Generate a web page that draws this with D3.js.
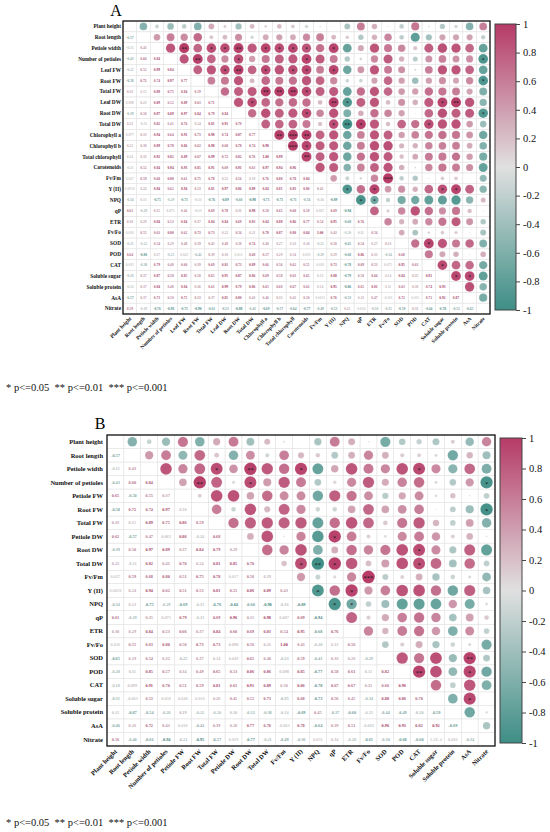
<!DOCTYPE html>
<html>
<head>
<meta charset="utf-8">
<script src="https://cdn.jsdelivr.net/npm/d3@7"></script>
<style>
body { margin: 0; background: #fff; }
svg text { font-family: "Liberation Serif", "Times New Roman", serif; }
</style>
</head>
<body>
<svg id="chart" width="550" height="832"></svg>
<script>
// variable names, panel A
const namesA = ["Plant height", "Root length", "Petiole width", "Number of petioles", "Leaf FW", "Root FW",
	"Total  FW", "Leaf DW", "Root DW", "Total DW", "Chlorophyll a", "Chlorophyll b", "Total chlorophyll",
	"Carotenoids", "Fv/Fm", "Y (II)", "NPQ", "qP", "ETR", "Fv/Fo", "SOD", "POD", "CAT",
	"Soluble sugar", "Soluble protein", "AsA", "Nitrate"];

// lower triangle of the correlation matrix, row i holds columns 0..i-1
const lowerA = [
	[],
	[-0.57],
	[-0.15, 0.43],
	[-0.43, 0.60, 0.84],
	[-0.22, 0.52, 0.99, 0.84],
	[-0.58, 0.72, 0.74, 0.97, 0.77],
	[0.33, 0.15, 0.89, 0.75, 0.84, 0.59],
	[0.098, 0.23, 0.89, 0.52, 0.89, 0.63, 0.71],
	[-0.39, 0.50, 0.97, 0.89, 0.97, 0.84, 0.79, 0.84],
	[0.23, -0.11, 0.82, 0.41, 0.76, 0.24, 0.81, 0.91, 0.70],
	[0.077, 0.33, 0.94, 0.64, 0.91, 0.73, 0.98, 0.74, 0.87, 0.77],
	[0.22, 0.38, 0.89, 0.78, 0.86, 0.63, 0.98, 0.68, 0.78, 0.74, 0.98],
	[0.14, 0.33, 0.92, 0.82, 0.89, 0.67, 0.99, 0.72, 0.82, 0.76, 1.00, 0.99],
	[-0.11, 0.52, 0.84, 0.94, 0.93, 0.85, 0.91, 0.69, 0.91, 0.63, 0.97, 0.94, 0.96],
	[0.027, 0.59, 0.68, 0.80, 0.61, 0.75, 0.78, 0.22, 0.56, 0.19, 0.76, 0.80, 0.78, 0.84],
	[0.0058, 0.24, 0.94, 0.62, 0.94, 0.53, 0.81, 0.97, 0.86, 0.89, 0.84, 0.81, 0.83, 0.80, 0.43],
	[-0.34, 0.13, -0.75, -0.29, -0.71, -0.13, -0.76, -0.89, -0.60, -0.98, -0.71, -0.71, -0.71, -0.56, -0.16, -0.89],
	[0.61, -0.29, 0.35, 0.075, 0.46, -0.13, 0.69, 0.78, 0.31, 0.98, 0.58, 0.61, 0.68, 0.58, 0.067, 0.69, -0.94],
	[0.30, 0.29, 0.84, 0.53, 0.84, 0.37, 0.84, 0.84, 0.69, 0.83, 0.84, 0.88, 0.86, 0.77, 0.54, 0.95, -0.68, 0.76],
	[0.016, 0.55, 0.63, 0.80, 0.62, 0.73, 0.73, 0.22, 0.56, 0.21, 0.78, 0.87, 0.80, 0.84, 1.00, 0.43, -0.20, 0.11, 0.56],
	[-0.21, -0.22, 0.54, 0.29, 0.48, 0.39, 0.43, 0.48, 0.38, 0.74, 0.40, 0.27, 0.20, 0.30, -0.21, 0.50, -0.65, 0.54, 0.27, 0.33],
	[0.64, -0.80, 0.17, -0.25, 0.045, -0.42, 0.39, 0.30, 0.013, 0.68, 0.57, 0.29, 0.34, 0.033, -0.29, 0.29, -0.68, 0.86, 0.33, -0.34, 0.68],
	[0.033, -0.38, 0.79, 0.48, 0.60, 0.39, 0.69, 0.81, 0.73, 0.89, 0.66, 0.56, 0.62, 0.55, 0.018, 0.73, -0.78, 0.69, 0.53, 0.075, 0.95, 0.63],
	[-0.28, 0.37, 0.87, 0.58, 0.85, 0.50, 0.65, 0.95, 0.87, 0.86, 0.69, 0.58, 0.63, 0.65, 0.13, 0.88, -0.79, 0.50, 0.66, 0.14, 0.84, 0.35, 0.91],
	[-0.12, 0.37, 0.84, 0.48, 0.84, 0.36, 0.61, 0.99, 0.79, 0.86, 0.65, 0.60, 0.67, 0.61, 0.14, 0.95, -0.86, 0.65, 0.81, 0.11, 0.63, 0.30, 0.74, 0.93],
	[-0.57, 0.37, 0.73, 0.50, 0.75, 0.53, 0.37, 0.85, 0.80, 0.43, 0.46, 0.33, 0.41, 0.50, 0.0051, 0.76, -0.53, 0.20, 0.47, -0.011, 0.72, 0.015, 0.71, 0.92, 0.87],
	[0.59, -0.19, -0.76, -0.91, -0.75, -0.90, -0.61, -0.53, -0.88, -0.43, -0.69, -0.57, -0.64, -0.77, -0.49, -0.53, 0.25, -0.016, -0.30, -0.35, -0.59, 0.31, -0.66, -0.78, -0.55, -0.65]
];

// significance marks shown in the upper triangle: [row, col, mark]
const starsA = [
	[2, 4, "**"], [2, 6, "*"], [2, 7, "*"], [2, 8, "**"], [2, 10, "*"], [2, 11, "*"], [2, 12, "*"], [2, 13, "*"], [2, 15, "*"],
	[3, 5, "**"], [3, 8, "*"], [3, 13, "*"], [3, 26, "*"],
	[4, 7, "*"], [4, 8, "**"], [4, 10, "*"], [4, 12, "*"], [4, 13, "*"], [4, 15, "*"],
	[5, 26, "*"],
	[6, 10, "**"], [6, 11, "**"], [6, 12, "**"], [6, 13, "*"],
	[7, 9, "*"], [7, 15, "**"], [7, 16, "*"], [7, 23, "*"], [7, 24, "**"],
	[8, 13, "*"], [8, 26, "*"],
	[9, 15, "*"], [9, 16, "**"], [9, 17, "*"], [9, 22, "*"],
	[10, 11, "**"], [10, 12, "***"], [10, 13, "**"],
	[11, 12, "***"], [11, 13, "*"],
	[12, 13, "**"],
	[14, 19, "***"],
	[15, 16, "*"], [15, 18, "*"], [15, 23, "*"], [15, 24, "*"],
	[16, 17, "*"], [16, 18, "*"],
	[20, 22, "*"],
	[22, 23, "*"],
	[23, 24, "*"], [23, 25, "*"]
];

// variable names, panel B
const namesB = ["Plant height", "Root length", "Petiole width", "Number of petioles", "Petiole FW", "Root FW",
	"Total  FW", "Petiole DW", "Root DW", "Total DW", "Fv/Fm", "Y (II)", "NPQ", "qP", "ETR", "Fv/Fo",
	"SOD", "POD", "CAT", "Soluble sugar", "Soluble protein", "AsA", "Nitrate"];

const lowerB = [
	[],
	[-0.57],
	[-0.15, 0.43],
	[-0.43, 0.60, 0.84],
	[0.65, -0.50, 0.55, 0.37],
	[-0.58, 0.72, 0.74, 0.97, 0.10],
	[0.33, 0.15, 0.89, 0.75, 0.86, 0.59],
	[0.62, -0.57, 0.47, 0.063, 0.86, -0.14, 0.68],
	[-0.39, 0.50, 0.97, 0.89, 0.37, 0.84, 0.79, 0.29],
	[0.23, -0.11, 0.82, 0.41, 0.70, 0.24, 0.81, 0.85, 0.70],
	[0.027, 0.59, 0.68, 0.80, 0.51, 0.75, 0.78, 0.017, 0.56, 0.19],
	[0.0058, 0.24, 0.94, 0.62, 0.51, 0.53, 0.81, 0.55, 0.86, 0.89, 0.43],
	[-0.34, 0.13, -0.75, -0.29, -0.69, -0.13, -0.76, -0.84, -0.60, -0.98, -0.16, -0.89],
	[0.61, -0.29, 0.35, 0.075, 0.79, -0.13, 0.69, 0.96, 0.31, 0.98, 0.067, 0.69, -0.94],
	[0.30, 0.29, 0.84, 0.53, 0.66, 0.37, 0.84, 0.60, 0.69, 0.83, 0.54, 0.95, -0.68, 0.76],
	[0.016, 0.55, 0.63, 0.80, 0.50, 0.73, 0.73, 0.098, 0.56, 0.21, 1.00, 0.43, -0.20, 0.11, 0.56],
	[-0.65, 0.29, 0.54, 0.32, -0.25, 0.37, 0.14, 0.049, 0.65, 0.40, -0.23, 0.59, -0.41, 0.33, 0.26, -0.29],
	[-0.28, 0.11, 0.85, 0.57, 0.34, 0.49, 0.65, 0.53, 0.86, 0.86, 0.098, 0.85, -0.77, 0.58, 0.61, 0.11, 0.82],
	[-0.18, 0.099, 0.91, 0.70, 0.51, 0.59, 0.81, 0.61, 0.91, 0.89, 0.30, 0.86, -0.78, 0.67, 0.67, 0.31, 0.66, 0.96],
	[-0.31, -0.063, 0.53, 0.056, 0.048, 0.010, 0.26, 0.45, 0.52, 0.73, -0.35, 0.68, -0.73, 0.56, 0.45, -0.34, 0.88, 0.86, 0.70],
	[0.11, -0.67, -0.54, -0.28, 0.19, -0.22, -0.20, 0.10, -0.32, -0.38, -0.14, -0.69, 0.45, -0.37, -0.60, -0.13, -0.44, -0.49, -0.20, -0.59],
	[-0.46, 0.26, 0.72, 0.43, 0.016, -0.42, 0.39, 0.28, 0.77, 0.70, -0.063, 0.78, -0.64, 0.39, 0.51, -0.063, 0.96, 0.93, 0.82, 0.92, -0.69],
	[0.56, -0.40, -0.61, -0.94, -0.21, -0.95, -0.57, 0.019, -0.77, -0.21, -0.49, -0.36, 0.051, 0.14, -0.20, -0.65, -0.30, -0.68, -0.60, 0.00012, 0.036, -0.34]
];

const starsB = [
	[2, 6, "*"], [2, 8, "**"], [2, 11, "*"], [2, 18, "*"],
	[3, 5, "**"], [3, 8, "*"], [3, 22, "*"],
	[5, 22, "*"],
	[7, 13, "*"],
	[8, 18, "*"],
	[9, 11, "*"], [9, 12, "**"], [9, 13, "*"], [9, 18, "*"],
	[10, 15, "***"],
	[11, 12, "*"], [11, 14, "*"],
	[12, 13, "*"], [12, 14, "*"],
	[16, 21, "**"],
	[17, 18, "**"], [17, 21, "*"],
	[19, 21, "*"]
];

const colorTicks = [1, 0.8, 0.6, 0.4, 0.2, 0, -0.2, -0.4, -0.6, -0.8, -1];
const legendText = "* p<=0.05  ** p<=0.01  *** p<=0.001";

//////////////////////////////////////////////////////////////////////

const color = d3.scaleLinear()
	.domain([-1, 0, 1])
	.range(["#3e8e86", "#e0e0e0", "#b63b67"]);

const svg = d3.select("#chart");

// gradient for the colour bars
const grad = svg.append("defs").append("linearGradient")
	.attr("id", "cbar")
	.attr("x1", 0).attr("y1", 1).attr("x2", 0).attr("y2", 0);
grad.selectAll("stop")
	.data(d3.range(-1, 1.001, 0.1))
	.join("stop")
	.attr("offset", d => (d + 1) / 2)
	.attr("stop-color", d => color(d));

function fmt(v) {
	const a = Math.abs(v);
	if (a >= 0.1) return v.toFixed(2);
	if (a >= 0.001) return v.toPrecision(2);
	return v.toExponential(1).toUpperCase();
}

function drawPanel(p) {

	const n = p.names.length;
	const x = d3.scaleBand().domain(d3.range(n)).range([p.left, p.left + p.width]);
	const y = d3.scaleBand().domain(d3.range(n)).range([p.top, p.top + p.height]);
	const rMax = 0.47 * Math.min(x.bandwidth(), y.bandwidth());
	const rScale = d3.scaleSqrt().domain([0, 1]).range([0, rMax]);

	const cells = [];
	for (let i = 0; i < n; i++) {
		for (let j = 0; j < n; j++) {
			const v = i > j ? p.lower[i][j] : (i < j ? p.lower[j][i] : null);
			cells.push({i: i, j: j, v: v});
		}
	}

	const g = svg.append("g");

	// grid
	g.selectAll("rect.cell")
		.data(cells)
		.join("rect")
		.attr("x", d => x(d.j))
		.attr("y", d => y(d.i))
		.attr("width", x.bandwidth())
		.attr("height", y.bandwidth())
		.attr("fill", "none")
		.attr("stroke", "#e4e4e4")
		.attr("stroke-width", 0.5);

	// circles in the upper triangle
	g.selectAll("circle.corr")
		.data(cells.filter(d => d.j > d.i))
		.join("circle")
		.attr("cx", d => x(d.j) + x.bandwidth() / 2)
		.attr("cy", d => y(d.i) + y.bandwidth() / 2)
		.attr("r", d => rScale(Math.abs(d.v)))
		.attr("fill", d => color(d.v))
		.attr("stroke", "#fff")
		.attr("stroke-opacity", 0.35)
		.attr("stroke-width", 0.4);

	// significance marks
	g.selectAll("text.star")
		.data(p.stars)
		.join("text")
		.attr("x", d => x(d[1]) + x.bandwidth() / 2)
		.attr("y", d => y(d[0]) + y.bandwidth() / 2)
		.attr("dy", "0.5em")
		.attr("text-anchor", "middle")
		.attr("font-size", p.starSize)
		.attr("fill", "#111")
		.text(d => d[2]);

	// numbers in the lower triangle
	g.selectAll("text.num")
		.data(cells.filter(d => d.j < d.i))
		.join("text")
		.attr("x", d => x(d.j) + x.bandwidth() / 2)
		.attr("y", d => y(d.i) + y.bandwidth() / 2)
		.attr("dy", "0.35em")
		.attr("text-anchor", "middle")
		.attr("font-size", p.numSize)
		.attr("font-weight", "bold")
		.attr("fill", d => d3.color(color(d.v)).darker(0.25))
		.text(d => fmt(d.v));

	// frame
	g.append("rect")
		.attr("x", p.left)
		.attr("y", p.top)
		.attr("width", p.width)
		.attr("height", p.height)
		.attr("fill", "none")
		.attr("stroke", "#111")
		.attr("stroke-width", 1.3);

	// row labels
	g.selectAll("text.rowlab")
		.data(p.names)
		.join("text")
		.attr("x", p.left - p.rowGap)
		.attr("y", (d, i) => y(i) + y.bandwidth() / 2)
		.attr("dy", "0.35em")
		.attr("text-anchor", "end")
		.attr("font-size", p.labelSize)
		.attr("font-weight", "bold")
		.attr("fill", "#111")
		.text(d => d);

	// column labels
	g.selectAll("text.collab")
		.data(p.names)
		.join("text")
		.attr("transform", (d, i) => "translate(" + (x(i) + x.bandwidth() / 2 + 2) + "," + (p.top + p.height + p.colGap) + ") rotate(-45)")
		.attr("text-anchor", "end")
		.attr("font-size", p.labelSize)
		.attr("font-weight", "bold")
		.attr("fill", "#111")
		.text(d => d);

	// panel letter
	g.append("text")
		.attr("x", p.titleX)
		.attr("y", p.titleY)
		.attr("text-anchor", "middle")
		.attr("font-size", 16)
		.text(p.title);

	// colour bar
	const cy = d3.scaleLinear().domain([-1, 1]).range([p.barBottom, p.barTop]);
	g.append("rect")
		.attr("x", p.barX)
		.attr("y", p.barTop)
		.attr("width", p.barW)
		.attr("height", p.barBottom - p.barTop)
		.attr("fill", "url(#cbar)")
		.attr("stroke", "#444")
		.attr("stroke-width", 1);

	const axis = g.append("g")
		.attr("transform", "translate(" + (p.barX + p.barW) + ",0)")
		.call(d3.axisRight(cy).tickValues(colorTicks).tickSize(4).tickPadding(3).tickFormat(d => String(d)));
	axis.select(".domain").remove();
	axis.selectAll(".tick line").attr("stroke", "#444");
	axis.selectAll(".tick text")
		.attr("font-family", "Liberation Serif, serif")
		.attr("font-size", 10.5)
		.attr("fill", "#111");

	// significance legend
	g.append("text")
		.attr("x", 6)
		.attr("y", p.legendY)
		.attr("font-size", 10.5)
		.attr("fill", "#111")
		.style("white-space", "pre")
		.text(legendText);
}

drawPanel({
	names: namesA, lower: lowerA, stars: starsA, title: "A",
	left: 123, top: 21, width: 367, height: 293,
	labelSize: 5.3, numSize: 3.6, starSize: 5.5, rowGap: 2, colGap: 5,
	titleX: 116, titleY: 16,
	barX: 495, barW: 21, barTop: 24, barBottom: 310,
	legendY: 391
});

drawPanel({
	names: namesB, lower: lowerB, stars: starsB, title: "B",
	left: 107, top: 435, width: 388, height: 311,
	labelSize: 6.5, numSize: 4.3, starSize: 6.5, rowGap: 4, colGap: 6,
	titleX: 100, titleY: 429,
	barX: 500, barW: 22, barTop: 438, barBottom: 743,
	legendY: 826
});
</script>
</body>
</html>
